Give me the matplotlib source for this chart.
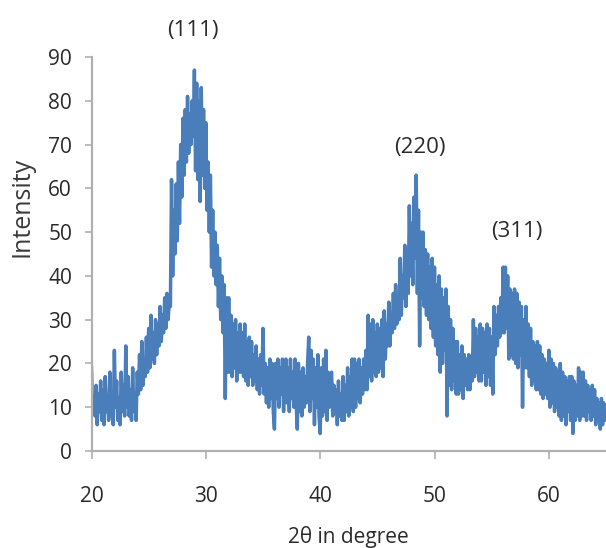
import numpy as np
import matplotlib
matplotlib.use("Agg")
import matplotlib.pyplot as plt

plt.rcParams['font.family'] = ['Open Sans', 'DejaVu Sans']

# 2-theta start / step (degrees) and intensity (0.1 deg spacing)
two_theta_start = 20.0
two_theta_step = 0.1
intensity = [
    19, 9, 12, 8, 15, 6, 13, 9, 16, 7,      # 20
    14, 6, 17, 9, 12, 7, 18, 8, 13, 6,      # 21
    23, 10, 16, 7, 12, 6, 18, 9, 15, 8,     # 22
    24, 10, 17, 8, 14, 7, 19, 9, 12, 7,     # 23
    18, 13, 22, 14, 25, 15, 21, 17, 26, 18, # 24
    28, 19, 31, 21, 27, 20, 30, 22, 29, 24, # 25
    33, 25, 31, 27, 35, 28, 36, 30, 34, 33, # 26
    62, 40, 55, 45, 61, 48, 66, 52, 70, 58, # 27
    76, 63, 78, 66, 81, 68, 77, 70, 80, 72, # 28
    87, 64, 84, 62, 80, 57, 83, 63, 78, 60, # 29
    75, 55, 66, 50, 63, 42, 55, 40, 50, 38, # 30
    47, 33, 44, 30, 40, 27, 38, 12, 35, 18, # 31
    35, 18, 31, 17, 29, 19, 30, 16, 27, 18, # 32
    29, 18, 27, 17, 29, 16, 25, 15, 26, 17, # 33
    25, 15, 22, 16, 24, 14, 21, 13, 22, 15, # 34
    28, 13, 20, 11, 19, 10, 21, 12, 20, 9,  # 35
    5, 20, 12, 21, 10, 19, 13, 21, 9, 17,   # 36
    21, 11, 19, 9, 21, 12, 18, 10, 21, 11,  # 37
    5, 20, 9, 18, 8, 19, 10, 17, 11, 20,    # 38
    26, 9, 23, 12, 21, 6, 19, 10, 22, 8,    # 39
    4, 19, 8, 21, 9, 23, 7, 18, 10, 17,     # 40
    18, 8, 15, 9, 14, 6, 16, 8, 13, 7,      # 41
    17, 7, 15, 9, 19, 8, 17, 10, 21, 9,     # 42
    21, 10, 20, 12, 21, 11, 19, 13, 21, 14, # 43
    23, 14, 31, 17, 29, 16, 30, 18, 27, 17, # 44
    29, 18, 28, 19, 30, 17, 32, 21, 29, 24, # 45
    34, 24, 31, 27, 36, 28, 38, 29, 35, 30, # 46
    44, 31, 40, 35, 47, 33, 45, 36, 56, 40, # 47
    52, 38, 58, 44, 63, 36, 55, 24, 50, 35, # 48
    50, 33, 46, 31, 45, 30, 42, 28, 44, 26, # 49
    42, 24, 38, 22, 40, 18, 37, 20, 35, 23, # 50
    37, 8, 33, 15, 30, 14, 28, 16, 25, 13,  # 51
    25, 13, 22, 14, 24, 12, 22, 15, 21, 14, # 52
    22, 14, 21, 16, 30, 17, 28, 18, 26, 16, # 53
    29, 16, 28, 18, 27, 15, 29, 17, 28, 15, # 54
    26, 13, 33, 22, 31, 24, 33, 26, 35, 27, # 55
    42, 27, 42, 28, 40, 21, 37, 22, 36, 21, # 56
    37, 20, 36, 19, 34, 22, 33, 10, 30, 19, # 57
    33, 19, 29, 17, 28, 15, 25, 16, 24, 14, # 58
    25, 14, 24, 13, 22, 12, 21, 13, 20, 12, # 59
    23, 10, 21, 11, 20, 9, 19, 10, 18, 8,   # 60
    20, 7, 18, 8, 17, 6, 16, 9, 17, 7,      # 61
    17, 4, 16, 7, 15, 8, 19, 7, 18, 8,      # 62
    18, 8, 16, 7, 15, 9, 14, 7, 15, 8,      # 63
    14, 6, 12, 7, 11, 5, 12, 6, 11, 7,      # 64
    8,                                      # 65
]
two_theta = two_theta_start + two_theta_step * np.arange(len(intensity))

peak_labels = ["(111)", "(220)", "(311)"]
peak_label_x = [28.85, 48.75, 57.2]
peak_label_y = [96.0, 69.4, 50.2]

x_ticks = [20, 30, 40, 50, 60]
y_ticks = [0, 10, 20, 30, 40, 50, 60, 70, 80, 90]

fig = plt.figure(figsize=(6.06, 5.48), dpi=100)
ax = fig.add_axes([0.151, 0.177, 0.849, 0.719])
ax.plot(two_theta, intensity, color='#4a7ebb', linewidth=2.5)

ax.set_xlim(20, 65)
ax.set_ylim(0, 90)
ax.set_xticks(x_ticks)
ax.set_yticks(y_ticks)

for s in ['top', 'right']:
    ax.spines[s].set_visible(False)
for s in ['left', 'bottom']:
    ax.spines[s].set_color('#b0b0b0')
    ax.spines[s].set_linewidth(1.6)

ax.tick_params(axis='x', direction='out', length=6, width=1.2, color='#b0b0b0',
               labelsize=15, pad=19, labelcolor='#2a2a2a')
ax.tick_params(axis='y', direction='out', length=5, width=1.2, color='#b0b0b0',
               labelsize=15, pad=9, labelcolor='#2a2a2a')

ax.set_xlabel('2θ in degree', fontsize=15, color='#2a2a2a', va='center')
ax.xaxis.set_label_coords(0.5, -0.218)
ax.set_ylabel('Intensity', fontsize=18, color='#3a3a3a', va='center')
ax.yaxis.set_label_coords(-0.135, 0.62)

for lab, lx, ly in zip(peak_labels, peak_label_x, peak_label_y):
    ax.text(lx, ly, lab, ha='center', va='center', fontsize=16,
            color='#2a2a2a', clip_on=False)

fig.savefig('out.png', dpi=100)
